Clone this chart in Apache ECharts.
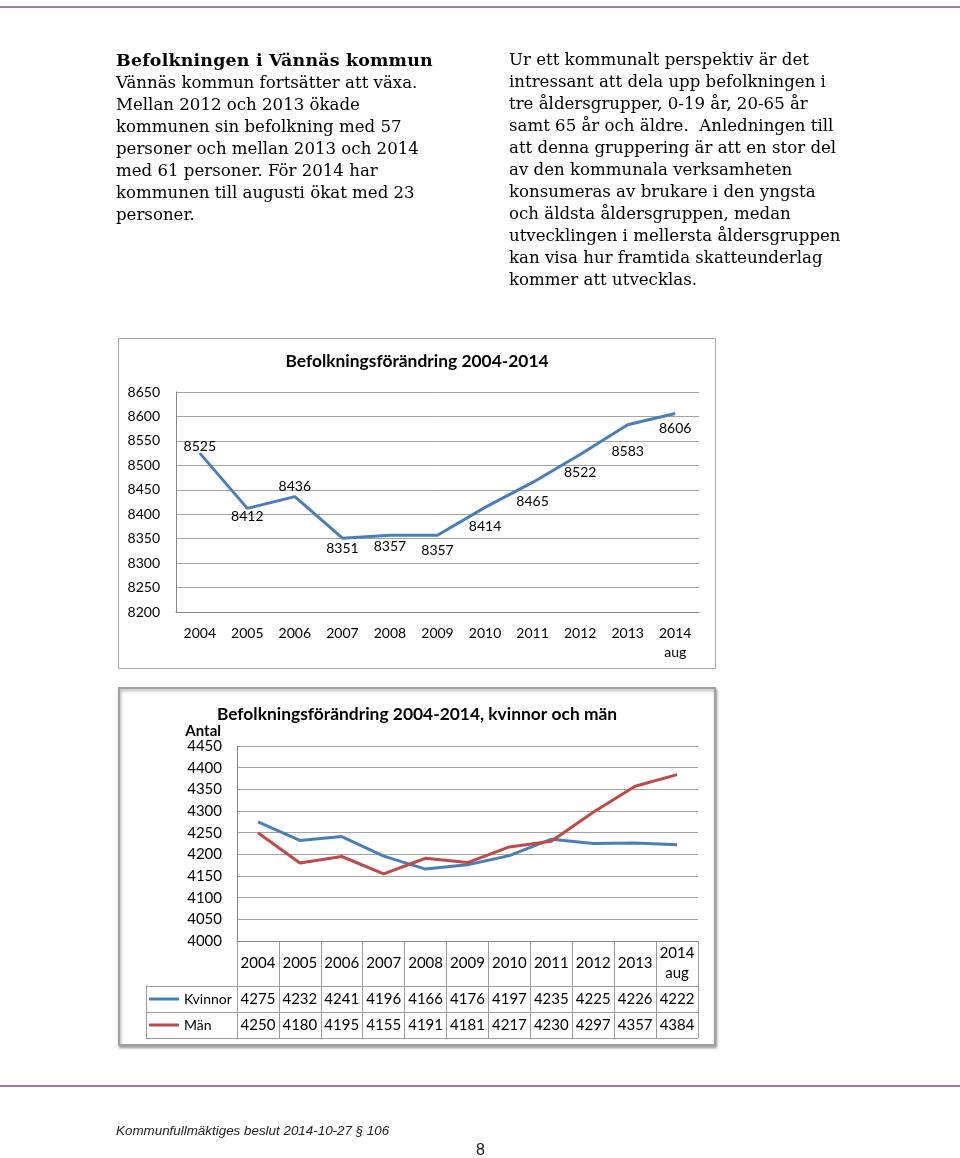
<!DOCTYPE html>
<html><head><meta charset="utf-8">
<script src="https://cdn.jsdelivr.net/npm/echarts@6/dist/echarts.min.js"></script>
<style>
html,body{margin:0;padding:0;background:#fff;width:960px;height:1158px;overflow:hidden}
body{position:relative}
#chart{position:absolute;left:0;top:0;width:960px;height:1158px}
.rule{position:absolute;left:0;width:960px;height:2px;background:#a07ba3;z-index:3}
.txt{position:absolute;font-family:"DejaVu Serif",serif;font-size:16.6px;line-height:22px;color:#000;white-space:nowrap;z-index:3}
.txt b{font-size:17.4px;letter-spacing:0.2px}
.foot{position:absolute;left:116px;top:1123px;font-family:"Liberation Sans",sans-serif;font-style:italic;font-size:13.4px;color:#222;white-space:nowrap;z-index:3}
.pg{position:absolute;left:476px;top:1141px;font-family:"Liberation Sans",sans-serif;font-size:16px;color:#222;z-index:3}
</style></head><body>
<div id="chart"></div>
<div class="rule" style="top:6px"></div>
<div class="rule" style="top:1085px"></div>
<div class="txt" style="left:116px;top:49px"><b>Befolkningen i Vännäs kommun</b><br>Vännäs kommun fortsätter att växa.<br>Mellan 2012 och 2013 ökade<br>kommunen sin befolkning med 57<br>personer och mellan 2013 och 2014<br>med 61 personer. För 2014 har<br>kommunen till augusti ökat med 23<br>personer.</div>
<div class="txt" style="left:509px;top:49px">Ur ett kommunalt perspektiv är det<br>intressant att dela upp befolkningen i<br>tre åldersgrupper, 0-19 år, 20-65 år<br>samt 65 år och äldre.&nbsp; Anledningen till<br>att denna gruppering är att en stor del<br>av den kommunala verksamheten<br>konsumeras av brukare i den yngsta<br>och äldsta åldersgruppen, medan<br>utvecklingen i mellersta åldersgruppen<br>kan visa hur framtida skatteunderlag<br>kommer att utvecklas.</div>
<div class="foot">Kommunfullmäktiges beslut 2014-10-27 § 106</div>
<div class="pg">8</div>
<script>
// ---- data ----
const years = ['2004','2005','2006','2007','2008','2009','2010','2011','2012','2013','2014\naug'];
const total = [8525,8412,8436,8351,8357,8357,8414,8465,8522,8583,8606];
const kvinnor = [4275,4232,4241,4196,4166,4176,4197,4235,4225,4226,4222];
const man = [4250,4180,4195,4155,4191,4181,4217,4230,4297,4357,4384];
const seriesNames = ['Kvinnor','Män'];
const title1 = 'Befolkningsförändring 2004-2014';
const title2 = 'Befolkningsförändring 2004-2014, kvinnor och män';
// ---- label styling (not data) ----
const labelPos1 = ['top','bottom','top','bottom','bottom','bottom','bottom','bottom','bottom','bottom','bottom'];
const labelDist1 = [0,1,3,3,4,8,12,12,11,20,8];

const FONT = 'Lato';
const BLUE = '#4a7ebb', RED = '#be4b48';
const AX = '#868686', GRIDC = '#a3a3a3', TBL = '#9a9a9a';
const plain = v => String(v);

const chart = echarts.init(document.getElementById('chart'));
chart.setOption({
  animation:false,
  textStyle:{fontFamily:FONT},
  graphic:[
    {type:'rect', z:-10, shape:{x:118.5,y:338.5,width:597,height:330}, style:{fill:'#fff',stroke:'#a8a8a8',lineWidth:1}},
    {type:'rect', z:-10, shape:{x:119,y:688,width:596,height:357}, style:{fill:'#fff',stroke:'#a0a0a0',lineWidth:2,shadowBlur:3,shadowOffsetX:1,shadowOffsetY:2,shadowColor:'rgba(0,0,0,0.35)'}},
    {type:'text', x:417, y:361, style:{text:title1, fontFamily:FONT, fontWeight:'bold', fontSize:17.4, fill:'#000', align:'center', verticalAlign:'middle'}},
    {type:'text', x:417, y:714, style:{text:title2, fontFamily:FONT, fontWeight:'bold', fontSize:17.4, fill:'#000', align:'center', verticalAlign:'middle'}}
  ],
  legend:{data:seriesNames, orient:'vertical', left:149, top:991, padding:0, itemGap:10, itemWidth:30, itemHeight:3, icon:'rect', selectedMode:false,
    textStyle:{fontFamily:FONT, fontSize:14, color:'#000', lineHeight:16}},
  grid:[
    {left:176, top:392, width:523, height:220, outerBoundsMode:'none'},
    {left:237, top:746, width:461, height:195, outerBoundsMode:'none'},
    {left:237, top:941, width:461, height:97, outerBoundsMode:'none'},
    {left:146, top:986, width:552, height:52, outerBoundsMode:'none'}
  ],
  xAxis:[
    {gridIndex:0, type:'category', data:years, boundaryGap:true,
      axisLine:{show:true, lineStyle:{color:AX}}, axisTick:{show:false},
      axisLabel:{interval:0, color:'#000', fontSize:14, margin:12, lineHeight:19}},
    {gridIndex:1, type:'category', data:years, boundaryGap:true,
      axisLine:{show:true, lineStyle:{color:AX}}, axisTick:{show:false},
      axisLabel:{interval:0, color:'#000', fontSize:15, margin:22, lineHeight:20, verticalAlign:'middle'}},
    {gridIndex:1, type:'category', data:kvinnor.map(plain), position:'bottom', offset:58,
      axisLine:{show:false}, axisTick:{show:false},
      axisLabel:{interval:0, color:'#000', fontSize:15, margin:0, verticalAlign:'middle'}},
    {gridIndex:1, type:'category', data:man.map(plain), position:'bottom', offset:84,
      axisLine:{show:false}, axisTick:{show:false},
      axisLabel:{interval:0, color:'#000', fontSize:15, margin:0, verticalAlign:'middle'}},
    {gridIndex:2, type:'category', data:years, boundaryGap:true,
      axisLine:{show:false}, axisTick:{show:false}, axisLabel:{show:false},
      splitLine:{show:true, interval:0, lineStyle:{color:TBL}}},
    {gridIndex:3, type:'value', show:false}
  ],
  yAxis:[
    {gridIndex:0, type:'value', min:8200, max:8650, interval:50,
      axisLine:{show:true, lineStyle:{color:AX}}, axisTick:{show:false},
      splitLine:{show:true, lineStyle:{color:GRIDC}},
      axisLabel:{color:'#000', fontSize:14, margin:16, formatter:plain}},
    {gridIndex:1, type:'value', min:4000, max:4450, interval:50,
      name:'Antal', nameLocation:'end', nameGap:15,
      nameTextStyle:{fontFamily:FONT, fontWeight:'bold', fontSize:15, color:'#000', align:'right', verticalAlign:'middle', padding:[0,16,0,0]},
      axisLine:{show:true, lineStyle:{color:AX}}, axisTick:{show:false},
      splitLine:{show:true, lineStyle:{color:GRIDC}},
      axisLabel:{color:'#000', fontSize:15, margin:15, formatter:plain}},
    {gridIndex:2, type:'value', show:false},
    {gridIndex:3, type:'category', data:['a','b'], boundaryGap:true,
      axisLine:{show:true, lineStyle:{color:TBL}}, axisTick:{show:false}, axisLabel:{show:false},
      splitLine:{show:true, interval:0, lineStyle:{color:TBL}}}
  ],
  series:[
    {name:'Befolkning', type:'line', xAxisIndex:0, yAxisIndex:0,
      data: total.map((v,i)=>({value:v, label:{position:labelPos1[i], distance:labelDist1[i]}})),
      symbol:'circle', symbolSize:0.1, showSymbol:true,
      lineStyle:{color:BLUE, width:3}, itemStyle:{color:BLUE},
      label:{show:true, fontFamily:FONT, fontSize:14, color:'#000'}},
    {name:seriesNames[0], type:'line', xAxisIndex:1, yAxisIndex:1, data:kvinnor,
      symbol:'none', lineStyle:{color:BLUE, width:3}, itemStyle:{color:BLUE}},
    {name:seriesNames[1], type:'line', xAxisIndex:1, yAxisIndex:1, data:man,
      symbol:'none', lineStyle:{color:RED, width:3}, itemStyle:{color:RED}}
  ]
});
</script>
</body></html>
